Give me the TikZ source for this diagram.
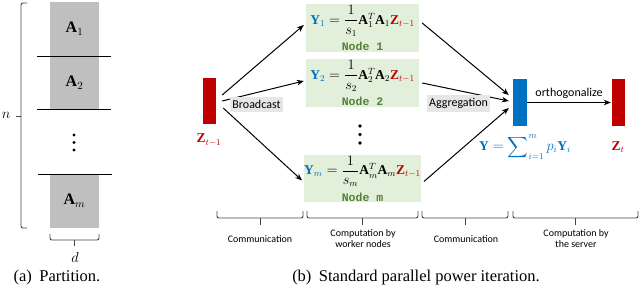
\documentclass[tikz,border=0pt]{standalone}
\usepackage{amsmath}
\usepackage{fontspec}
\setmainfont{Liberation Serif}
\setsansfont{Carlito}
\setmonofont{Liberation Mono}
\usetikzlibrary{arrows.meta,positioning}

\definecolor{zred}{RGB}{192,0,0}
\definecolor{yblue}{RGB}{0,112,192}
\definecolor{boxgreen}{RGB}{226,239,218}
\definecolor{nodegreen}{RGB}{84,130,53}
\definecolor{taggray}{RGB}{231,230,230}
\definecolor{colgray}{RGB}{191,191,191}
\definecolor{brkgray}{RGB}{70,70,70}

\newcommand{\wknode}[1]{{\ttfamily\bfseries\fontsize{11.5}{12}\selectfont\color{nodegreen}#1}}

\begin{document}
\begin{tikzpicture}[x=1pt, y=-1pt, >={Stealth[length=7pt,width=5.5pt]}]

\tikzstyle{blk}=[fill=colgray, minimum width=49pt, inner sep=0pt, font=\fontsize{16}{18}\selectfont]
\tikzstyle{bar}=[minimum width=13pt, minimum height=47pt, inner sep=0pt]
\tikzstyle{work}=[fill=boxgreen, minimum width=113pt, minimum height=48pt, inner sep=0pt, align=center, font=\fontsize{13.5}{13}\selectfont]
\tikzstyle{mlab}=[inner sep=1pt, font=\fontsize{13.5}{14}\selectfont]
\tikzstyle{tag}=[fill=taggray, inner xsep=2pt, inner ysep=3pt, font=\sffamily\fontsize{12}{14}\selectfont]
\tikzstyle{phase}=[align=center, inner sep=0pt, font=\sffamily\fontsize{10}{11}\selectfont]
\tikzstyle{captext}=[inner sep=0pt, font=\rmfamily\fontsize{16.5}{18}\selectfont]
\tikzstyle{brk}=[draw=brkgray, line width=0.9pt, rounded corners=2pt]
\tikzstyle{trans}=[->, line width=1pt]

\useasboundingbox (0,0) rectangle (640,289);

\node[blk, minimum height=54pt] (a1) at (74.5,29) {$\mathbf{A}_1$};
\node[blk, minimum height=53pt] (a2) at (74.5,82.5) {$\mathbf{A}_2$};
\node[blk, minimum height=54pt] (am) at (74.5,201) {$\mathbf{A}_m$};
\draw[line width=1pt] (37,56) -- (111,56);
\draw[line width=1pt] (37,109) -- (111,109);
\draw[line width=1pt] (38,174) -- (112,174);
\fill (74,135) circle (1.6) (74,142.5) circle (1.6) (74,150) circle (1.6);

\draw[brk] (27,3) -- (21,3) -- (21,228) -- (27,228);
\draw[brk] (21,116) -- (16,116);
\node[mlab, font=\fontsize{14}{16}\selectfont] (nlab) at (6,115) {$n$};
\draw[brk] (50,234) -- (50,240) -- (99,240) -- (99,234);
\draw[brk] (74.5,240) -- (74.5,246);
\node[mlab, font=\fontsize{14}{16}\selectfont] (dlab) at (75,257) {$d$};
\node[captext] (capa) at (57,278) {(a)\hspace{0.45em}Partition.};

\node[bar, fill=zred, minimum height=46pt] (zold) at (209.5,101) {};
\node[mlab, text=zred] (zoldlab) at (209,140) {$\mathbf{Z}_{t-1}$};

\node[work] (w1) at (362.5,28) {$\color{yblue}\mathbf{Y}_1 \color{black}= \dfrac{1}{s_1}\mathbf{A}_1^T\mathbf{A}_1\color{zred}\mathbf{Z}_{t-1}$\\[5pt] \wknode{Node 1}};
\node[work] (w2) at (362.5,83) {$\color{yblue}\mathbf{Y}_2 \color{black}= \dfrac{1}{s_2}\mathbf{A}_2^T\mathbf{A}_2\color{zred}\mathbf{Z}_{t-1}$\\[5pt] \wknode{Node 2}};
\node[work, minimum height=47pt] (wm) at (362.5,178.5) {$\color{yblue}\mathbf{Y}_m \color{black}= \dfrac{1}{s_m}\mathbf{A}_m^T\mathbf{A}_m\color{zred}\mathbf{Z}_{t-1}$\\[5pt] \wknode{Node m}};
\fill (360,126) circle (1.8) (360,134.5) circle (1.8) (360,143) circle (1.8);

\node[bar, fill=yblue, minimum width=14pt] (ybar) at (520,102.5) {};
\node[mlab, text=yblue] (ylab) at (525,147) {$\mathbf{Y} = \displaystyle\sum\nolimits_{i=1}^{m} p_i\mathbf{Y}_i$};
\node[bar, fill=zred] (znew) at (618.5,102.5) {};
\node[mlab, text=zred] (znewlab) at (618,147) {$\mathbf{Z}_t$};

\draw[trans] ([shift={(6,-6)}]zold.east) -- ([shift={(-2,-3)}]w1.west);
\draw[trans] ([shift={(6,0)}]zold.east) -- ([shift={(-2,-2)}]w2.west);
\draw[trans] ([shift={(7,7)}]zold.east) -- ([shift={(-2,2)}]wm.west);

\draw[trans] ([shift={(3,-5)}]w1.east) -- ([shift={(-4,-7.5)}]ybar.west);
\draw[trans] ([shift={(3,0)}]w2.east) -- ([shift={(-4,-1.5)}]ybar.west);
\draw[trans] ([shift={(3,3)}]wm.east) -- ([shift={(-4,5.5)}]ybar.west);

\draw[trans] (ybar.east) -- node[above, inner sep=3pt, font=\sffamily\fontsize{12}{14}\selectfont] (ortho) {orthogonalize} ([xshift=-1pt]znew.west);

\node[tag] (bcast) at (256.5,104.5) {Broadcast};
\node[tag] (aggr) at (458.5,103.5) {Aggregation};

\draw[brk] (217,211) -- (217,218) -- (303,218) -- (303,211);
\draw[brk] (260,218) -- (260,225);
\node[phase] (ph1) at (260,239) {Communication};
\draw[brk] (307,211) -- (307,218) -- (418,218) -- (418,211);
\draw[brk] (362.5,218) -- (362.5,225);
\node[phase] (ph2) at (363,239) {Computation by\\worker nodes};
\draw[brk] (422,211) -- (422,218) -- (508,218) -- (508,211);
\draw[brk] (465,218) -- (465,225);
\node[phase] (ph3) at (466,239) {Communication};
\draw[brk] (513,211) -- (513,218) -- (638,218) -- (638,211);
\draw[brk] (575.5,218) -- (575.5,225);
\node[phase] (ph4) at (576,239) {Computation by\\the server};

\node[captext] (capb) at (416,278) {(b)\hspace{0.45em}Standard parallel power iteration.};

\end{tikzpicture}
\end{document}
